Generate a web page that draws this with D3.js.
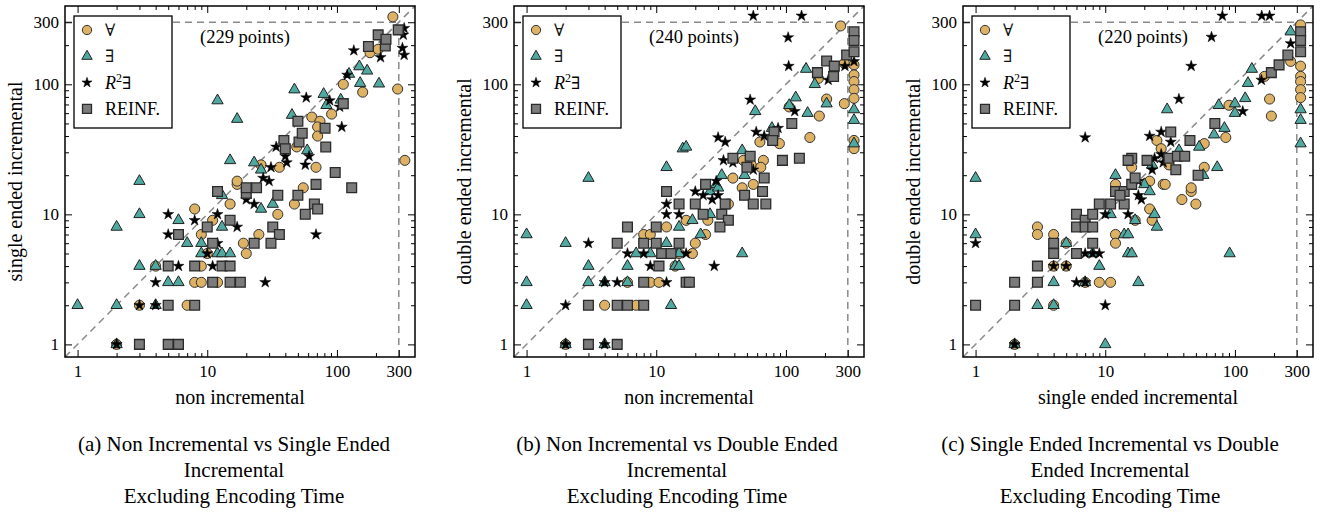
<!DOCTYPE html>
<html>
<head>
<meta charset="utf-8">
<script src="https://cdn.jsdelivr.net/npm/d3@7"></script>
<style>
body { margin: 0; background: #fff; }
svg { font-family: "Liberation Serif", "Times New Roman", serif; }
</style>
</head>
<body>
<svg id="chart" width="1321" height="512"></svg>
<script>
// Panel (a): non incremental (x) vs single ended incremental (y)
const aForall = [[2,1],[3,2],[7,2],[8,3],[9,3],[12,3],[4,4],[9,4],[10,5],[9,7],[8,11],[11,9],[15,12],[17,17],[47,12],[35,10],[25,7],[19,6],[20,5],[55,16],[270,330],[180,175],[208,186],[112,100],[158,87],[294,92],[334,26],[91,59],[64,56],[74,52],[71,47],[71,40],[49,33],[69,23],[36,23],[26,24],[17,18]];
const aExists = [[2,1],[1,2],[2,2],[2,8],[3,10],[3,18],[3,4],[4,2],[4,4],[5,3],[6,3],[9,5],[12,5],[13,5],[7,6],[9,6],[6,9],[13,8],[13,14],[12,75],[17,54],[15,26],[15,5],[26,11],[32,12],[23,25],[26,22],[59,31],[45,58],[47,91],[79,84],[83,69],[107,76],[124,120],[149,137],[171,127],[151,102],[211,101]];
const aR2 = [[2,1],[3,2],[4,2],[4,3],[6,4],[11,4],[10,5],[12,6],[5,7],[5,10],[8,9],[12,10],[17,8],[20,13],[23,12],[69,7],[28,3],[27,19],[30,18],[31,23],[40,28],[41,25],[34,33],[57,24],[61,28],[58,79],[88,75],[105,67],[109,47],[120,118],[135,182],[217,161],[330,270],[325,240],[320,190],[330,168]];
const aReinf = [[3,1],[5,1],[6,1],[5,2],[8,2],[5,4],[8,4],[13,4],[15,4],[11,3],[15,3],[18,3],[6,7],[10,8],[11,6],[15,9],[12,15],[20,14.5],[24,16],[20,16],[35,14],[50,14],[67,12],[71,11],[57,10],[32,8],[36,7],[23,6],[31,6],[69,17],[130,16],[97,21],[82,33],[39,37],[40,32],[51,36],[54,42],[81,46],[50,52],[112,71],[175,195],[236,197],[208,240],[239,222],[297,262]];

// Panel (b): non incremental (x) vs double ended incremental (y)
const bForall = [[2,1],[4,2],[7,2],[6,3],[9,3],[10.5,3],[14,4],[15,5],[8,7],[9,7],[12,8],[17,9],[25,9],[24,7],[20,6],[19,5],[36,12],[46,16],[56,17],[39,19],[54,24],[47,26],[67,26],[64,23],[63,36],[89,35],[106,67],[181,57],[153,39],[206,77],[282,71],[264,281],[282,145],[178,111],[335,141],[335,118],[335,105],[335,91],[335,78],[335,37],[335,32]];
const bExists = [[2,1],[1,7],[1,3],[1,2],[2,6],[3,4],[3,3],[3,19],[4,3],[4,1],[6,4],[6,3],[7,5],[9,5],[12,6],[13,2],[15,8],[14,4],[15,5],[15,4],[19,9],[22,7],[26,10],[26,15],[29,17],[30,16],[32,20],[48,20],[46,31],[46,5],[12,23],[16,32],[17,33],[78,46],[58,62],[119,79],[106,69],[147,60],[143,131],[167,100],[206,71],[335,64],[335,53],[335,35]];
const bR2 = [[2,1],[4,1],[2,2],[3,6],[4,3],[5,3],[6,5],[8,5],[9,4],[12,3],[12,12],[12,10],[15,10],[17,5],[20,15],[23,14],[27,13],[30,14],[28,4],[29,18],[33,26],[39,25],[30,39],[34,36],[56,22],[59,43],[68,40],[87,46],[53,76],[117,62],[105,138],[104,229],[56,336],[132,336],[212,108],[285,138],[335,150]];
const bReinf = [[3,1],[5,1],[3,2],[5,2],[6,2],[8,2],[8,3],[17,3],[18,3],[10.5,4],[11,5],[13,5],[5,6],[8,6],[10,6],[15,6],[6,8],[10,8],[12,15],[15,12],[20,12],[23,10],[32,10],[36,9],[31,8],[34,12],[48,14],[56,12],[70,12],[66,15],[24,17],[39,27],[53,28],[50,23],[68,19],[81,43],[79,37],[94,26],[127,27],[111,50],[175,123],[233,115],[206,151],[236,138],[294,168],[335,254],[335,217],[335,178]];

// Panel (c): single ended incremental (x) vs double ended incremental (y)
const cForall = [[2,1],[3,8],[3,7],[4,7],[4,4],[4,2],[5,6],[5,4],[7,3],[9,3],[11,3],[12,7],[12,6],[12,17],[22,18],[28,17],[46,15],[39,13],[50,12],[22,11],[23,9],[17,9],[25,37],[27,32],[16,23],[29,17],[31,24],[46,16],[58,23],[58,35],[85,39],[90,69],[185,77],[191,57],[169,115],[269,150],[321,286],[321,138],[321,115],[321,105],[321,91],[321,79]];
const cExists = [[2,1],[1,19],[1,7],[3,2],[4,3],[4,2],[5,6],[7,3],[8,5],[9,4],[10,1],[11,10],[14,7],[15,5],[12,20],[15,7],[16,5],[18,3],[17,9],[20,17],[22,15],[24,10],[25,8],[23,24],[37,31],[30,64],[53,33],[57,20],[73,23],[69,41],[83,46],[75,69],[100,71],[100,60],[120,78],[126,102],[135,131],[91,5],[269,254],[321,64],[321,53],[321,35]];
const cR2 = [[1,6],[2,1],[4,4],[5,4],[6,3],[7,5],[7,3],[8,5],[9,5],[10,2],[10,10],[15,10],[18,14],[19,13],[18,18],[23,22],[24,27],[28,25],[27,29],[22,40],[27,43],[32,36],[37,77],[46,138],[66,231],[80,336],[161,336],[185,336],[115,62],[160,108],[269,206],[7,39]];
const cReinf = [[1,2],[2,3],[2,2],[3,4],[3,3],[4,6],[4,5],[6,10],[6,8],[6,5],[7,9],[7,8],[8,10],[8,8],[8,6],[9,12],[11,12],[12,15],[14,12],[14,15],[13,14],[16,17],[16,27],[17,19],[21,26],[15,26],[31,27],[36,28],[41,28],[35,22],[32,43],[45,37],[52,20],[70,50],[191,123],[219,141],[256,168],[321,254],[321,217],[321,178]];

const pointCounts = [229, 240, 220];
const xLabels = ["non incremental", "non incremental", "single ended incremental"];
const yLabels = ["single ended incremental", "double ended incremental", "double ended incremental"];
const captions = [
  ["(a) Non Incremental vs Single Ended", "Incremental", "Excluding Encoding Time"],
  ["(b) Non Incremental vs Double Ended", "Incremental", "Excluding Encoding Time"],
  ["(c) Single Ended Incremental vs Double", "Ended Incremental", "Excluding Encoding Time"]
];
const majorTicks = [1, 10, 100, 300];
const minorTicks = [2, 3, 4, 5, 6, 7, 8, 9, 20, 30, 40, 50, 60, 70, 80, 90, 200];
const timeout = 300;

// series styles, drawn in this order
const seriesStyles = [
  {name: "forall", symbol: d3.symbolCircle, size: 80, fill: "#deb264", stroke: "#333", sw: 1},
  {name: "exists", symbol: d3.symbolTriangle, size: 55, fill: "#4fa9a0", stroke: "#222", sw: 1},
  {name: "r2", symbol: d3.symbolStar, size: 38, fill: "#000", stroke: "#000", sw: 0.5},
  {name: "reinf", symbol: d3.symbolSquare, size: 95, fill: "#7b7b7b", stroke: "#2a2a2a", sw: 1.3}
];

const panels = [
  {left: 65, data: [aForall, aExists, aR2, aReinf], capX: 234},
  {left: 514, data: [bForall, bExists, bR2, bReinf], capX: 677},
  {left: 963, data: [cForall, cExists, cR2, cReinf], capX: 1110}
];

const svg = d3.select("#chart");
const plotW = 350, plotH = 351, plotTop = 6;
const domain = [0.8, 400];
const symbolFont = "'DejaVu Serif', serif";

panels.forEach((p, pi) => {
  const g = svg.append("g");
  const x = d3.scaleLog().domain(domain).range([p.left, p.left + plotW]);
  const y = d3.scaleLog().domain(domain).range([plotTop + plotH, plotTop]);

  // reference lines
  const dash = g.append("g").attr("stroke", "#8a8a8a").attr("stroke-width", 1.5)
    .attr("stroke-dasharray", "7,5").attr("fill", "none");
  dash.append("line").attr("x1", x(domain[0])).attr("y1", y(domain[0]))
    .attr("x2", x(domain[1])).attr("y2", y(domain[1]));
  dash.append("line").attr("x1", x(domain[0])).attr("y1", y(timeout))
    .attr("x2", x(timeout)).attr("y2", y(timeout));
  dash.append("line").attr("x1", x(timeout)).attr("y1", y(domain[0]))
    .attr("x2", x(timeout)).attr("y2", y(timeout));

  // axes with inward ticks on all four sides
  const fixAxis = sel => {
    sel.select(".domain").remove();
    sel.attr("font-family", null).attr("font-size", 17);
    sel.selectAll(".tick line").attr("stroke", "#000").attr("stroke-width", 1);
    sel.selectAll(".tick text").attr("fill", "#000");
  };
  const fmt = d3.format("d");
  g.append("g").attr("transform", `translate(0,${plotTop + plotH})`)
    .call(d3.axisBottom(x).tickValues(majorTicks).tickSize(-7).tickPadding(8).tickFormat(fmt)).call(fixAxis);
  g.append("g").attr("transform", `translate(0,${plotTop + plotH})`)
    .call(d3.axisBottom(x).tickValues(minorTicks).tickSize(-4).tickFormat("")).call(fixAxis);
  g.append("g").attr("transform", `translate(0,${plotTop})`)
    .call(d3.axisTop(x).tickValues(majorTicks).tickSize(-7).tickFormat("")).call(fixAxis);
  g.append("g").attr("transform", `translate(0,${plotTop})`)
    .call(d3.axisTop(x).tickValues(minorTicks).tickSize(-4).tickFormat("")).call(fixAxis);
  g.append("g").attr("transform", `translate(${p.left},0)`)
    .call(d3.axisLeft(y).tickValues(majorTicks).tickSize(-7).tickPadding(6).tickFormat(fmt)).call(fixAxis);
  g.append("g").attr("transform", `translate(${p.left},0)`)
    .call(d3.axisLeft(y).tickValues(minorTicks).tickSize(-4).tickFormat("")).call(fixAxis);
  g.append("g").attr("transform", `translate(${p.left + plotW},0)`)
    .call(d3.axisRight(y).tickValues(majorTicks).tickSize(-7).tickFormat("")).call(fixAxis);
  g.append("g").attr("transform", `translate(${p.left + plotW},0)`)
    .call(d3.axisRight(y).tickValues(minorTicks).tickSize(-4).tickFormat("")).call(fixAxis);

  // points
  seriesStyles.forEach((s, si) => {
    g.append("g").selectAll("path")
      .data(p.data[si])
      .join("path")
      .attr("d", d3.symbol().type(s.symbol).size(s.size))
      .attr("transform", d => `translate(${x(d[0])},${y(d[1])})`)
      .attr("fill", s.fill)
      .attr("stroke", s.stroke)
      .attr("stroke-width", s.sw);
  });

  // frame
  g.append("rect").attr("x", p.left).attr("y", plotTop).attr("width", plotW).attr("height", plotH)
    .attr("fill", "none").attr("stroke", "#000").attr("stroke-width", 1.5);

  // legend
  const lg = g.append("g").attr("transform", `translate(${p.left + 9},16)`);
  lg.append("rect").attr("width", 98).attr("height", 112)
    .attr("fill", "#fff").attr("stroke", "#000").attr("stroke-width", 1.3);
  const legendLabels = ["∀", "∃", "R2∃", "REINF."];
  seriesStyles.forEach((s, i) => {
    const ly = 14 + i * 26.3;
    lg.append("path").attr("d", d3.symbol().type(s.symbol).size(s.size * 0.85))
      .attr("transform", `translate(13,${ly})`)
      .attr("fill", s.fill).attr("stroke", s.stroke).attr("stroke-width", s.sw);
    const t = lg.append("text").attr("x", 31).attr("y", ly + 6).attr("font-size", 18);
    if (s.name === "r2") {
      t.append("tspan").attr("font-style", "italic").text("R");
      t.append("tspan").attr("font-size", 12).attr("dy", -7).text("2");
      t.append("tspan").attr("dy", 7).attr("font-family", symbolFont)
        .attr("font-weight", 200).attr("font-size", 17).text("∃");
    } else if (s.name === "reinf") {
      t.text(legendLabels[i]);
    } else {
      t.attr("font-family", symbolFont).attr("font-weight", 200).attr("font-size", 17)
        .attr("fill", "#111").text(legendLabels[i]);
    }
  });

  // point count note
  g.append("text").attr("x", p.left + 180).attr("y", 43).attr("text-anchor", "middle")
    .attr("font-size", 18.5).text(`(${pointCounts[pi]} points)`);

  // axis labels
  g.append("text").attr("x", p.left + plotW / 2).attr("y", 404).attr("text-anchor", "middle")
    .attr("font-size", 20).text(xLabels[pi]);
  g.append("text").attr("transform", `translate(${p.left - 43},${plotTop + plotH / 2}) rotate(-90)`)
    .attr("text-anchor", "middle").attr("font-size", 20).text(yLabels[pi]);

  // caption
  captions[pi].forEach((line, li) => {
    g.append("text").attr("x", p.capX).attr("y", 451 + li * 26).attr("text-anchor", "middle")
      .attr("font-size", 21).text(line);
  });
});
</script>
</body>
</html>
